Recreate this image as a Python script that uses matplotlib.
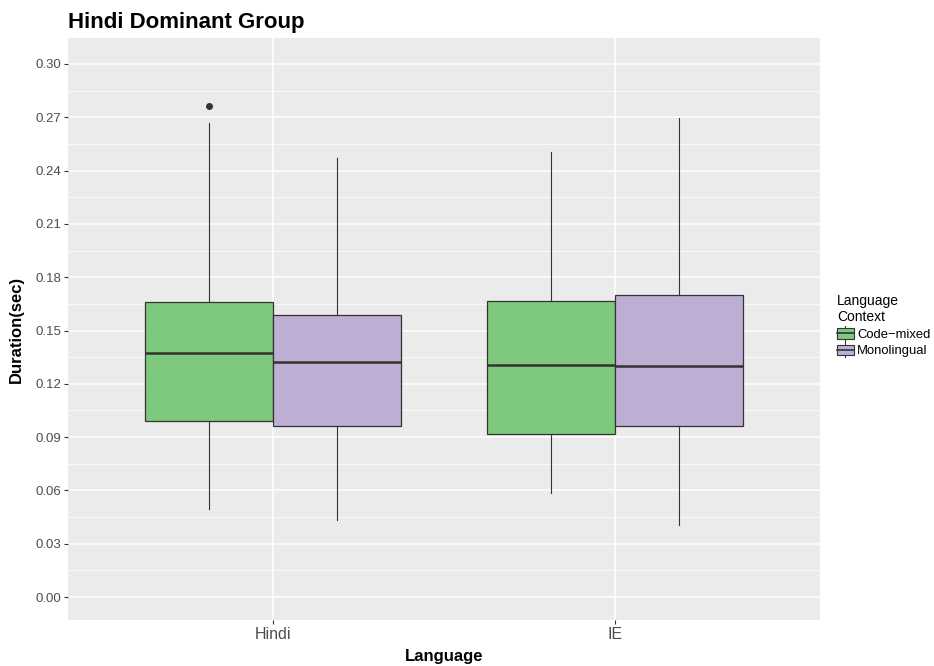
import numpy as np
import matplotlib.pyplot as plt
from matplotlib.patches import Patch, Rectangle
from matplotlib.lines import Line2D
from matplotlib.legend_handler import HandlerBase
from matplotlib.ticker import MultipleLocator

plt.rcParams['font.family'] = ['Liberation Sans', 'DejaVu Sans']

languages = ['Hindi', 'IE']
contexts = ['Code\u2212mixed', 'Monolingual']
colors = ['#7FC97F', '#BEAED4']

# box statistics per context, one entry per language
q1 = {'Code\u2212mixed': [0.0990, 0.0917], 'Monolingual': [0.0962, 0.0960]}
med = {'Code\u2212mixed': [0.1372, 0.1306], 'Monolingual': [0.1322, 0.1301]}
q3 = {'Code\u2212mixed': [0.1661, 0.1664], 'Monolingual': [0.1586, 0.1702]}
whislo = {'Code\u2212mixed': [0.0496, 0.0588], 'Monolingual': [0.0435, 0.0404]}
whishi = {'Code\u2212mixed': [0.2667, 0.2506], 'Monolingual': [0.2470, 0.2697]}
fliers = {'Code\u2212mixed': [[0.2764], []], 'Monolingual': [[], []]}


class BoxKey(HandlerBase):
    # small boxplot glyph for the legend keys
    def create_artists(self, legend, orig, xd, yd, width, height, fontsize, trans):
        fc = orig.get_facecolor()
        x0, y0 = -xd, -yd
        cx = x0 + width / 2
        box = Rectangle((x0, y0 + height * 0.15), width, height * 0.7,
                        facecolor=fc, edgecolor='#333333', linewidth=0.8,
                        transform=trans)
        wl = Line2D([cx, cx], [y0, y0 + height * 0.15],
                    color='#333333', linewidth=0.8, transform=trans)
        wh = Line2D([cx, cx], [y0 + height * 0.85, y0 + height],
                    color='#333333', linewidth=0.8, transform=trans)
        md = Line2D([x0, x0 + width], [y0 + height / 2] * 2,
                    color='#333333', linewidth=1.2, transform=trans)
        return [box, wl, wh, md]


fig = plt.figure(figsize=(9.34, 6.66), dpi=100)
ax = fig.add_axes([68 / 934, 46 / 666, 752 / 934, 582 / 666])
ax.set_facecolor('#EBEBEB')

ax.yaxis.set_major_locator(MultipleLocator(0.03))
ax.yaxis.set_minor_locator(MultipleLocator(0.015))
ax.grid(which='major', color='white', linewidth=1.1)
ax.grid(which='minor', axis='y', color='white', linewidth=0.55)
ax.set_axisbelow(True)

dodge = 0.75
w = dodge / 2
for j, ctx in enumerate(contexts):
    stats = []
    for i in range(len(languages)):
        stats.append(dict(q1=q1[ctx][i], med=med[ctx][i], q3=q3[ctx][i],
                          whislo=whislo[ctx][i], whishi=whishi[ctx][i],
                          fliers=fliers[ctx][i]))
    pos = np.arange(1, len(languages) + 1) + (j - 0.5) * w
    ax.bxp(stats, positions=pos, widths=w, patch_artist=True, showcaps=False,
           boxprops=dict(facecolor=colors[j], edgecolor='#333333', linewidth=0.9),
           medianprops=dict(color='#333333', linewidth=1.8),
           whiskerprops=dict(color='#333333', linewidth=0.8),
           flierprops=dict(marker='o', markersize=4, markerfacecolor='#333333',
                           markeredgecolor='#333333'),
           manage_ticks=False)

ax.set_xlim(0.4, 2.6)
ax.set_ylim(-0.0129, 0.3146)
ax.set_xticks([1, 2])
ax.set_xticklabels(languages)
ax.yaxis.set_major_formatter(plt.FuncFormatter(lambda v, p: f'{v:.2f}'))
for s in ax.spines.values():
    s.set_visible(False)
ax.tick_params(axis='y', which='major', length=3, color='#333333', labelsize=9.5,
               labelcolor='#4D4D4D', pad=2)
ax.tick_params(axis='x', which='major', length=3, color='#333333', labelsize=11.5,
               labelcolor='#4D4D4D', pad=2)
ax.tick_params(which='minor', length=0)

ax.set_xlabel('Language', fontsize=12, fontweight='bold', labelpad=5)
ax.set_ylabel('Duration(sec)', fontsize=12, fontweight='bold', labelpad=8)
ax.set_title('Hindi Dominant Group', fontsize=16, fontweight='bold', loc='left',
             x=0, pad=7)

handles = [Patch(facecolor=c, edgecolor='#333333', linewidth=0.8) for c in colors]
leg = fig.legend(handles, contexts, title='Language\nContext', loc='upper left',
                 bbox_to_anchor=(837 / 934, 1 - 294 / 666), frameon=False,
                 fontsize=9.4, title_fontsize=10, handlelength=1.3, handleheight=1.4,
                 handletextpad=0.25, borderaxespad=0, borderpad=0, labelspacing=0.12,
                 handler_map={Patch: BoxKey()})
leg._legend_box.align = 'left'

fig.savefig('out.png', dpi=100)
